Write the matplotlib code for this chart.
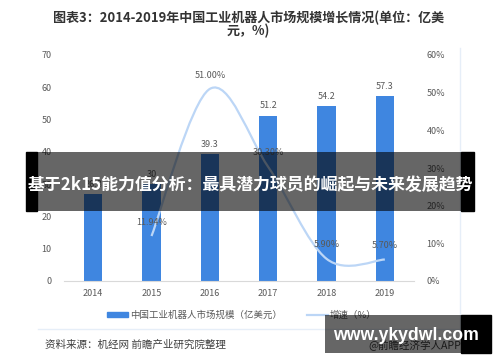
import matplotlib.pyplot as plt
import numpy as np
from matplotlib.patches import Rectangle
from matplotlib.path import Path
from matplotlib.patches import PathPatch
from matplotlib.lines import Line2D

plt.rcParams['font.family'] = ['Noto Sans CJK SC', 'DejaVu Sans']

# --- data ---
years = ["2014", "2015", "2016", "2017", "2018", "2019"]
market_size = [26.8, 30.0, 39.3, 51.2, 54.2, 57.3]
size_labels = ["26.8", "30", "39.3", "51.2", "54.2", "57.3"]
growth_years = ["2015", "2016", "2017", "2018", "2019"]
growth = [11.94, 51.00, 30.30, 5.90, 5.70]
growth_labels = ["11.94%", "51.00%", "30.30%", "5.90%", "5.70%"]

BAR_C = "#3f86e0"
LINE_C = "#bcd6f6"
TXT_C = "#595959"

W, H = 500, 362
fig = plt.figure(figsize=(5, 3.62), dpi=100)


def fx(px):
    return px / W


def fy(py):
    return 1 - py / H


ax = fig.add_axes([fx(64), fy(281), fx(414) - fx(64), fy(55) - fy(281)])
ax2 = ax.twinx()

x = np.arange(len(years))
ax.bar(x, market_size, width=0.31, color=BAR_C)
for xi, v, lab in zip(x, market_size, size_labels):
    ax.annotate(lab, (xi, v), xytext=(0, 7), textcoords="offset points",
                ha="center", va="center", fontsize=6.5, color=TXT_C)

ax.set_xlim(-0.5, len(years) - 0.5)
ax.set_ylim(0, 70)
ax.set_yticks(range(0, 71, 10))
ax.set_xticks(x)
ax.set_xticklabels(years)
for s in ["top", "left", "right"]:
    ax.spines[s].set_visible(False)
    ax2.spines[s].set_visible(False)
ax.spines["bottom"].set_color("#d9d9d9")
ax2.spines["bottom"].set_visible(False)
ax.tick_params(axis="both", length=0, labelsize=6.5, labelcolor=TXT_C)
ax.tick_params(axis="x", pad=6)
ax.tick_params(axis="y", pad=9)

# growth rate, smoothed like the spreadsheet curve (bezier through the points)
gx = np.array([years.index(y) for y in growth_years], dtype=float)
gy = np.array(growth)
pts = np.column_stack([gx, gy])
verts = [pts[0]]
codes = [Path.MOVETO]
n = len(pts)
for i in range(n - 1):
    p0 = pts[i - 1] if i > 0 else pts[i]
    p1, p2 = pts[i], pts[i + 1]
    p3 = pts[i + 2] if i + 2 < n else pts[i + 1]
    c1 = p1 + (p2 - p0) / 6
    c2 = p2 - (p3 - p1) / 6
    verts += [c1, c2, p2]
    codes += [Path.CURVE4] * 3
ax2.add_patch(PathPatch(Path(verts, codes), facecolor="none", edgecolor=LINE_C, lw=1.6))
for xi, v, lab in zip(gx, gy, growth_labels):
    ax2.annotate(lab, (xi, v), xytext=(0, 10), textcoords="offset points",
                 ha="center", va="center", fontsize=6.5, color=TXT_C)
ax2.set_ylim(0, 60)
ax2.set_yticks(range(0, 61, 10))
ax2.set_yticklabels([f"{t}%" for t in range(0, 61, 10)])
ax2.tick_params(axis="y", length=0, labelsize=6.5, labelcolor=TXT_C, pad=9)

# title
fig.text(fx(249), fy(18), "图表3：2014-2019年中国工业机器人市场规模增长情况(单位：亿美",
         ha="center", va="center", fontsize=9.4, fontweight="bold", color="#333333")
fig.text(fx(248), fy(31), "元，%)", ha="center", va="center", fontsize=9.4,
         fontweight="bold", color="#333333")

# legend
handles = [Rectangle((0, 0), 1, 1, color=BAR_C), Line2D([], [], color=LINE_C, lw=1.6)]
fig.legend(handles, ["中国工业机器人市场规模（亿美元）", "增速（%）"], loc="center",
           bbox_to_anchor=(fx(242), fy(315)), ncol=2, frameon=False, fontsize=6.8,
           handlelength=2.2, handleheight=0.5, handletextpad=0.25, columnspacing=2.6,
           labelcolor=TXT_C)

# frame lines
fig.add_artist(Line2D([fx(38), fx(460)], [fy(329), fy(329)], color="#e6eef8", lw=1))
fig.add_artist(Line2D([fx(460), fx(460)], [fy(48), fy(329)], color="#e6eef8", lw=1))

# source
fig.text(fx(45), fy(345), "资料来源：机经网 前瞻产业研究院整理", ha="left", va="center",
         fontsize=7.6, color="#404040")
fig.text(fx(461), fy(345), "@前瞻经济学人APP", ha="right", va="center",
         fontsize=7.6, color="#404040")

# banner overlay
fig.add_artist(Rectangle((fx(26), fy(211)), fx(37) - fx(26), fy(152) - fy(211),
                         transform=fig.transFigure, color="black", zorder=10))
fig.add_artist(Rectangle((fx(461), fy(211)), fx(474) - fx(461), fy(152) - fy(211),
                         transform=fig.transFigure, color="black", zorder=10))
fig.add_artist(Rectangle((fx(37), fy(211)), fx(461) - fx(37), fy(152) - fy(211),
                         transform=fig.transFigure, color="black", alpha=0.6,
                         lw=0, zorder=10))
fig.text(fx(250), fy(185), "基于2k15能力值分析：最具潜力球员的崛起与未来发展趋势",
         ha="center", va="center", fontsize=12.2, fontweight="bold", color="white",
         zorder=11)

# watermark box
fig.add_artist(Rectangle((fx(325), fy(353)), fx(461) - fx(325), fy(315) - fy(353),
                         transform=fig.transFigure, color="black", alpha=0.6,
                         lw=0, zorder=10))
fig.add_artist(Rectangle((fx(461), fy(353)), fx(491) - fx(461), fy(315) - fy(353),
                         transform=fig.transFigure, color="black", zorder=10))
fig.text(fx(406), fy(336), "www.ykydwl.com", ha="center", va="center",
         fontsize=12.7, fontweight="bold", color="white",
         family="Liberation Sans", zorder=11)

fig.savefig("out.png", dpi=100)
